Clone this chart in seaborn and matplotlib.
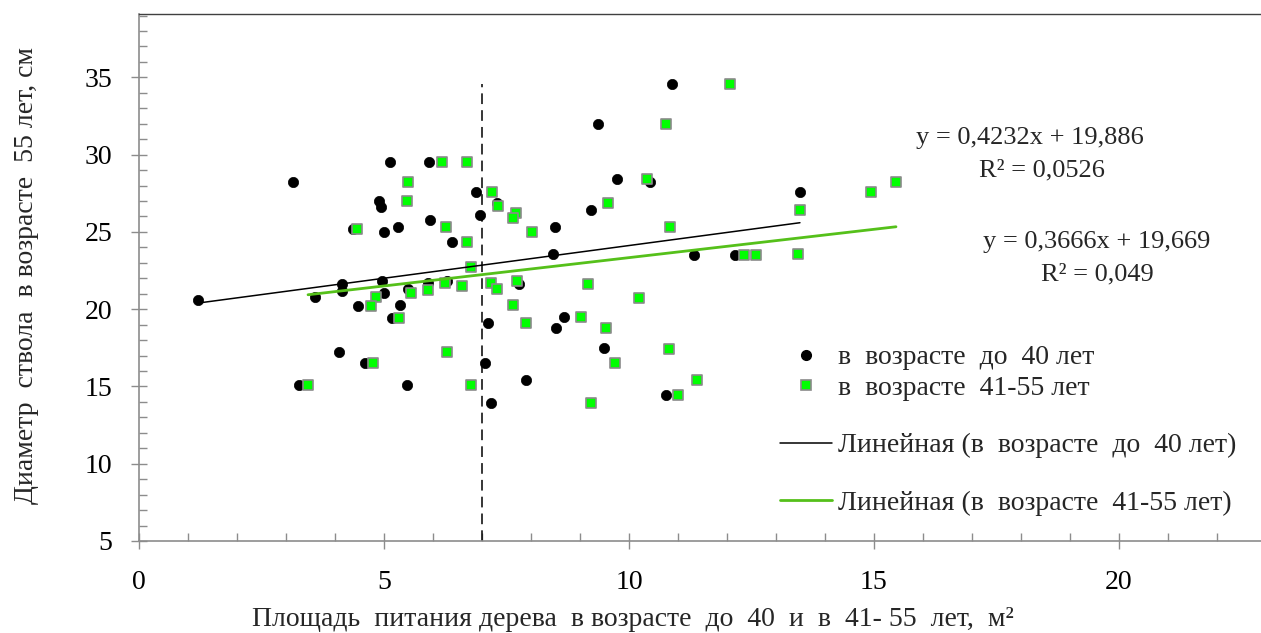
import numpy as np
import pandas as pd
import matplotlib
matplotlib.use("Agg")
import matplotlib.pyplot as plt
from matplotlib.lines import Line2D
from matplotlib.ticker import MultipleLocator
import seaborn as sns

# Площадь питания (м²) и диаметр ствола в 55 лет (см) — деревья в возрасте до 40 лет
area_40 = [1.20, 3.14, 3.27, 3.59, 4.08, 4.14, 4.14, 4.37, 4.47, 4.61, 4.90, 4.94,
           4.96, 5.00, 5.00, 5.12, 5.16, 5.29, 5.33, 5.47, 5.49, 5.92, 5.94, 5.90,
           6.39, 6.29, 6.88, 7.31, 6.96, 7.12, 7.06, 7.18, 7.76, 7.90, 8.49, 8.45,
           8.51, 8.67, 9.22, 9.37, 9.49, 9.76, 10.43, 10.88, 10.76, 11.33, 12.16, 13.49]
diam_40 = [20.6, 28.2, 15.1, 20.8, 17.2, 21.6, 21.2, 25.2, 20.2, 16.5, 27.0, 26.6,
           21.8, 25.0, 21.05, 29.5, 19.4, 25.3, 20.3, 15.1, 21.3, 29.5, 25.8, 21.7,
           24.35, 21.8, 27.6, 26.9, 26.1, 19.1, 16.5, 13.9, 21.6, 15.4, 25.3, 23.6,
           18.8, 19.5, 26.4, 32.0, 17.5, 28.4, 28.2, 34.6, 14.45, 23.5, 23.5, 27.6]

# Деревья в возрасте 41-55 лет
area_55 = [3.45, 4.45, 4.84, 4.73, 4.78, 5.31, 5.49, 5.47, 5.55, 5.90, 6.18, 6.27,
           6.24, 6.29, 6.69, 6.69, 6.59, 6.78, 6.78, 7.18, 7.20, 7.31, 7.33, 7.69,
           7.63, 7.71, 7.63, 7.90, 8.02, 9.02, 9.16, 9.22, 9.53, 9.57, 9.71, 10.20,
           10.37, 10.76, 10.82, 10.84, 11.00, 11.39, 12.06, 12.35, 12.59, 13.45, 13.49,
           14.94, 15.45]
diam_55 = [15.1, 25.2, 20.8, 20.2, 16.5, 19.4, 28.2, 27.0, 21.05, 21.25, 29.5, 25.3,
           21.7, 17.2, 29.5, 24.35, 21.5, 22.7, 15.1, 21.7, 27.6, 21.3, 26.7, 26.2,
           25.9, 21.8, 20.3, 19.1, 25.0, 19.5, 21.6, 13.9, 18.8, 26.9, 16.5, 20.7,
           28.4, 32.0, 17.4, 25.3, 14.45, 15.4, 34.6, 23.5, 23.5, 23.6, 26.4,
           27.6, 28.2]

# Линейные тренды (коэффициенты и R²)
slope_40, intercept_40, r2_40 = 0.4232, 19.886, 0.0526
slope_55, intercept_55, r2_55 = 0.3666, 19.669, 0.049

# Граница площади питания
area_threshold = 7.0

labels = ["в  возрасте  до  40 лет", "в  возрасте  41-55 лет",
          "Линейная (в  возрасте  до  40 лет)", "Линейная (в  возрасте  41-55 лет)"]
x_ticks = [0, 5, 10, 15, 20]
y_ticks = [5, 10, 15, 20, 25, 30, 35]

sns.set_style("ticks")
plt.rcParams["font.family"] = ["Liberation Serif", "DejaVu Serif"]

FS = 20
FS_EQ = 19
GREEN_LINE = "#55C01A"

fig = plt.figure(figsize=(12.61, 6.33), dpi=100)
ax = fig.add_axes([139 / 1261, 92 / 633, 1122 / 1261, 527 / 633])

df40 = pd.DataFrame({"x": area_40, "y": diam_40})
df55 = pd.DataFrame({"x": area_55, "y": diam_55})

sns.scatterplot(data=df40, x="x", y="y", ax=ax, color="black", marker="o",
                s=55, edgecolor="black", linewidth=0.5, zorder=3, legend=False)
sns.scatterplot(data=df55, x="x", y="y", ax=ax, color="#00FF00", marker="s",
                s=60, edgecolor="#8A8A8A", linewidth=1.2, zorder=4, legend=False)

# Линии тренда по опубликованным коэффициентам
tx40 = np.array([min(area_40), max(area_40)])
tx55 = np.array([min(area_55), max(area_55)])
trend40 = pd.DataFrame({"x": tx40, "y": slope_40 * tx40 + intercept_40})
trend55 = pd.DataFrame({"x": tx55, "y": slope_55 * tx55 + intercept_55})
sns.lineplot(data=trend40, x="x", y="y", ax=ax, color="black", linewidth=1.1, zorder=5)
sns.lineplot(data=trend55, x="x", y="y", ax=ax, color=GREEN_LINE, linewidth=2.0, zorder=5)

ax.vlines(area_threshold, 5, max(diam_40 + diam_55), colors="black",
          linestyles=(0, (7, 4)), linewidth=1.1, zorder=2)

ax.set_xlim(0, 22.9)
ax.set_ylim(5, 39.1)
ax.set_xticks(x_ticks)
ax.set_yticks(y_ticks)
ax.xaxis.set_minor_locator(MultipleLocator(1))
ax.yaxis.set_minor_locator(MultipleLocator(1))
ax.tick_params(which="major", direction="inout", length=12, width=1,
               color="#8C8C8C", labelsize=FS, labelcolor="black")
ax.tick_params(axis="x", which="major", pad=15)
ax.tick_params(axis="y", which="major", pad=13)
ax.tick_params(which="minor", direction="in", length=6, width=1, color="#8C8C8C")

for side in ("left", "bottom"):
    ax.spines[side].set_color("#8C8C8C")
    ax.spines[side].set_linewidth(1.2)
ax.spines["top"].set_color("#404040")
ax.spines["top"].set_linewidth(1.0)
ax.spines["right"].set_visible(False)

ax.set_xlabel("Площадь  питания дерева  в возрасте  до  40  и  в  41- 55  лет,  м²",
              fontsize=FS, va="center", ha="center")
ax.xaxis.set_label_coords((633 - 139) / 1122, -(619 - 541) / 527)
ax.set_ylabel("Диаметр  ствола  в возрасте  55 лет, см", fontsize=FS,
              va="center", ha="center")
ax.yaxis.set_label_coords(-(139 - 27) / 1122, (541 - 276) / 527)

def fmt(v):
    return str(v).replace(".", ",")

fig.text(1030 / 1261, 1 - 138 / 633, f"y = {fmt(slope_40)}x + {fmt(intercept_40)}",
         ha="center", va="center", fontsize=FS_EQ)
fig.text(1042 / 1261, 1 - 170 / 633, f"R² = {fmt(r2_40)}",
         ha="center", va="center", fontsize=FS_EQ)
fig.text(1097 / 1261, 1 - 242 / 633, f"y = {fmt(slope_55)}x + {fmt(intercept_55)}",
         ha="center", va="center", fontsize=FS_EQ)
fig.text(1097 / 1261, 1 - 274 / 633, f"R² = {fmt(r2_55)}",
         ha="center", va="center", fontsize=FS_EQ)

marker_handles = [
    Line2D([], [], linestyle="none", marker="o", markersize=7,
           markerfacecolor="black", markeredgecolor="black"),
    Line2D([], [], linestyle="none", marker="s", markersize=7.5,
           markerfacecolor="#00FF00", markeredgecolor="#8A8A8A", markeredgewidth=1.2),
]
line_handles = [
    Line2D([], [], color="black", linewidth=1.1),
    Line2D([], [], color=GREEN_LINE, linewidth=2.0),
]
leg1 = fig.legend(marker_handles, labels[:2], loc="upper left",
                  bbox_to_anchor=(780 / 1261, 1 - 345 / 633), frameon=False,
                  fontsize=FS, handlelength=1.87, handletextpad=0.22,
                  borderpad=0, borderaxespad=0, labelspacing=0.18)
leg2 = fig.legend(line_handles, labels[2:], loc="upper left",
                  bbox_to_anchor=(780 / 1261, 1 - 433 / 633), frameon=False,
                  fontsize=FS, handlelength=1.87, handletextpad=0.22,
                  borderpad=0, borderaxespad=0, labelspacing=1.15)

fig.savefig("out.png", dpi=100, facecolor="white")
